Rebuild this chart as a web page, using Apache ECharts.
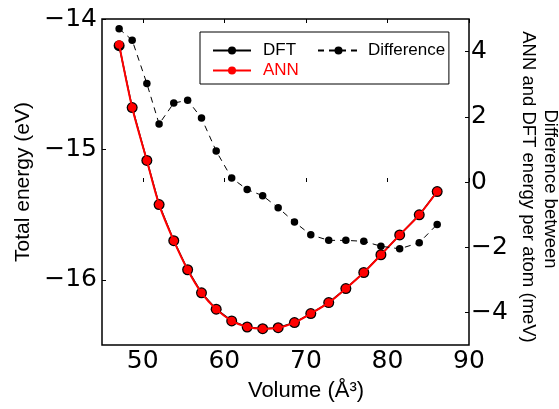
<!DOCTYPE html>
<html>
<head>
<meta charset="utf-8">
<script src="https://cdn.jsdelivr.net/npm/echarts@6/dist/echarts.min.js"></script>
<style>html,body{margin:0;padding:0;background:#fff;}#c{width:559px;height:409px;}</style>
</head>
<body>
<div id="c"></div>
<script>
var volume = [47.1, 48.7, 50.5, 52.0, 53.8, 55.5, 57.2, 59.0, 60.9, 62.8, 64.7, 66.6, 68.6, 70.6, 72.8, 74.9, 77.1, 79.2, 81.5, 83.9, 86.1];
var dftEnergy = [-14.205, -14.679, -15.085, -15.423, -15.700, -15.923, -16.100, -16.225, -16.315, -16.362, -16.375, -16.367, -16.328, -16.259, -16.175, -16.067, -15.944, -15.808, -15.656, -15.502, -15.323];
var annEnergy = [-14.195, -14.679, -15.085, -15.423, -15.700, -15.923, -16.100, -16.225, -16.315, -16.362, -16.375, -16.367, -16.328, -16.259, -16.175, -16.067, -15.944, -15.808, -15.656, -15.502, -15.323];
var difference = [4.70, 4.35, 3.02, 1.78, 2.42, 2.51, 1.96, 0.95, 0.12, -0.23, -0.42, -0.79, -1.23, -1.62, -1.79, -1.79, -1.82, -1.97, -2.05, -1.86, -1.30];
var xTicks = [50, 60, 70, 80, 90];
var yLeftTicks = [-16, -15, -14];
var yRightTicks = [-4, -2, 0, 2, 4];
var rightTitle = ['Difference between', 'ANN and DFT energy per atom (meV)'];

function pairs(xs, ys) { return xs.map(function (x, i) { return [x, ys[i]]; }); }
function minus(v) { return String(v).replace('-', '\u2212'); }

var tickFont = { fontFamily: 'DejaVu Sans', fontSize: 25, color: '#000' };
var titleFont = 'Liberation Sans';

var chart = echarts.init(document.getElementById('c'), null, { renderer: 'canvas' });
chart.setOption({
  animation: false,
  backgroundColor: '#fff',
  grid: { left: 102, top: 19, right: 90, bottom: 64, outerBoundsMode: 'none', containLabel: false,
          show: true, borderColor: '#000', borderWidth: 1.5, backgroundColor: 'transparent' },
  legend: [{
    orient: 'vertical', left: 200, top: 32,
    data: [{ name: 'DFT' }, { name: 'ANN', textStyle: { color: '#ff0000' } }],
    itemWidth: 38, itemHeight: 10, itemGap: 3,
    padding: [10, 150, 5, 12],
    borderColor: '#000', borderWidth: 1, backgroundColor: '#fff',
    textStyle: { fontFamily: titleFont, fontSize: 17, color: '#000', padding: [0, 0, 0, 7] }
  }, {
    orient: 'horizontal', left: 317, top: 42,
    data: [{ name: 'Difference' }],
    itemWidth: 41, itemHeight: 10, padding: 0,
    textStyle: { fontFamily: titleFont, fontSize: 17, color: '#000', padding: [0, 0, 0, 4] }
  }],
  graphic: [{
    type: 'text', x: 550, y: 189, rotation: -Math.PI / 2, silent: true,
    style: { text: rightTitle[0], fontFamily: titleFont, fontSize: 18.5, fill: '#000', align: 'center', verticalAlign: 'middle' }
  }, {
    type: 'text', x: 528, y: 187, rotation: -Math.PI / 2, silent: true,
    style: { text: rightTitle[1], fontFamily: titleFont, fontSize: 18.5, fill: '#000', align: 'center', verticalAlign: 'middle' }
  }],
  xAxis: [{
    type: 'value', min: 45, max: 90, position: 'bottom',
    name: 'Volume (\u00c5\u00b3)', nameLocation: 'middle', nameGap: 35,
    nameTextStyle: { fontFamily: titleFont, fontSize: 22, color: '#000', padding: [0, 0, 0, 41] },
    axisLine: { show: false }, splitLine: { show: false },
    axisTick: { show: true, inside: true, length: 4, customValues: xTicks, lineStyle: { color: '#000', width: 1 } },
    axisLabel: Object.assign({ customValues: xTicks, margin: 4 }, tickFont)
  }, {
    type: 'value', min: 45, max: 90, position: 'top',
    axisLine: { show: false }, splitLine: { show: false },
    axisTick: { show: true, inside: true, length: 4, customValues: xTicks, lineStyle: { color: '#000', width: 1 } },
    axisLabel: { show: false }
  }],
  yAxis: [{
    type: 'value', min: -16.5, max: -14, position: 'left',
    name: 'Total energy (eV)', nameLocation: 'middle', nameGap: 67, nameRotate: 90,
    nameTextStyle: { fontFamily: titleFont, fontSize: 21, color: '#000' },
    axisLine: { show: false }, splitLine: { show: false },
    axisTick: { show: true, inside: true, length: 4, customValues: yLeftTicks, lineStyle: { color: '#000', width: 1 } },
    axisLabel: Object.assign({ customValues: yLeftTicks, margin: 5, formatter: minus }, tickFont)
  }, {
    type: 'value', min: -5, max: 5, position: 'right',
    axisLine: { show: false }, splitLine: { show: false },
    axisTick: { show: true, inside: true, length: 4, customValues: yRightTicks, lineStyle: { color: '#000', width: 1 } },
    axisLabel: Object.assign({ customValues: yRightTicks, margin: 2, formatter: minus }, tickFont)
  }],
  series: [{
    name: 'DFT', type: 'line', xAxisIndex: 0, yAxisIndex: 0,
    data: pairs(volume, dftEnergy),
    symbol: 'circle', symbolSize: 11, showAllSymbol: true,
    itemStyle: { color: '#000' }, lineStyle: { color: '#000', width: 1.5 },
    z: 2
  }, {
    name: 'ANN', type: 'line', xAxisIndex: 0, yAxisIndex: 0,
    data: pairs(volume, annEnergy), smooth: 0.3,
    symbol: 'circle', symbolSize: 8.5, showAllSymbol: true,
    itemStyle: { color: '#ff0000' }, lineStyle: { color: '#ff0000', width: 2 },
    z: 3
  }, {
    name: 'Difference', type: 'line', xAxisIndex: 0, yAxisIndex: 1,
    data: pairs(volume, difference),
    symbol: 'circle', symbolSize: 7.5, showAllSymbol: true,
    itemStyle: { color: '#000' }, lineStyle: { color: '#000', width: 1, type: [6, 5] },
    z: 4
  }]
});
</script>
</body>
</html>
